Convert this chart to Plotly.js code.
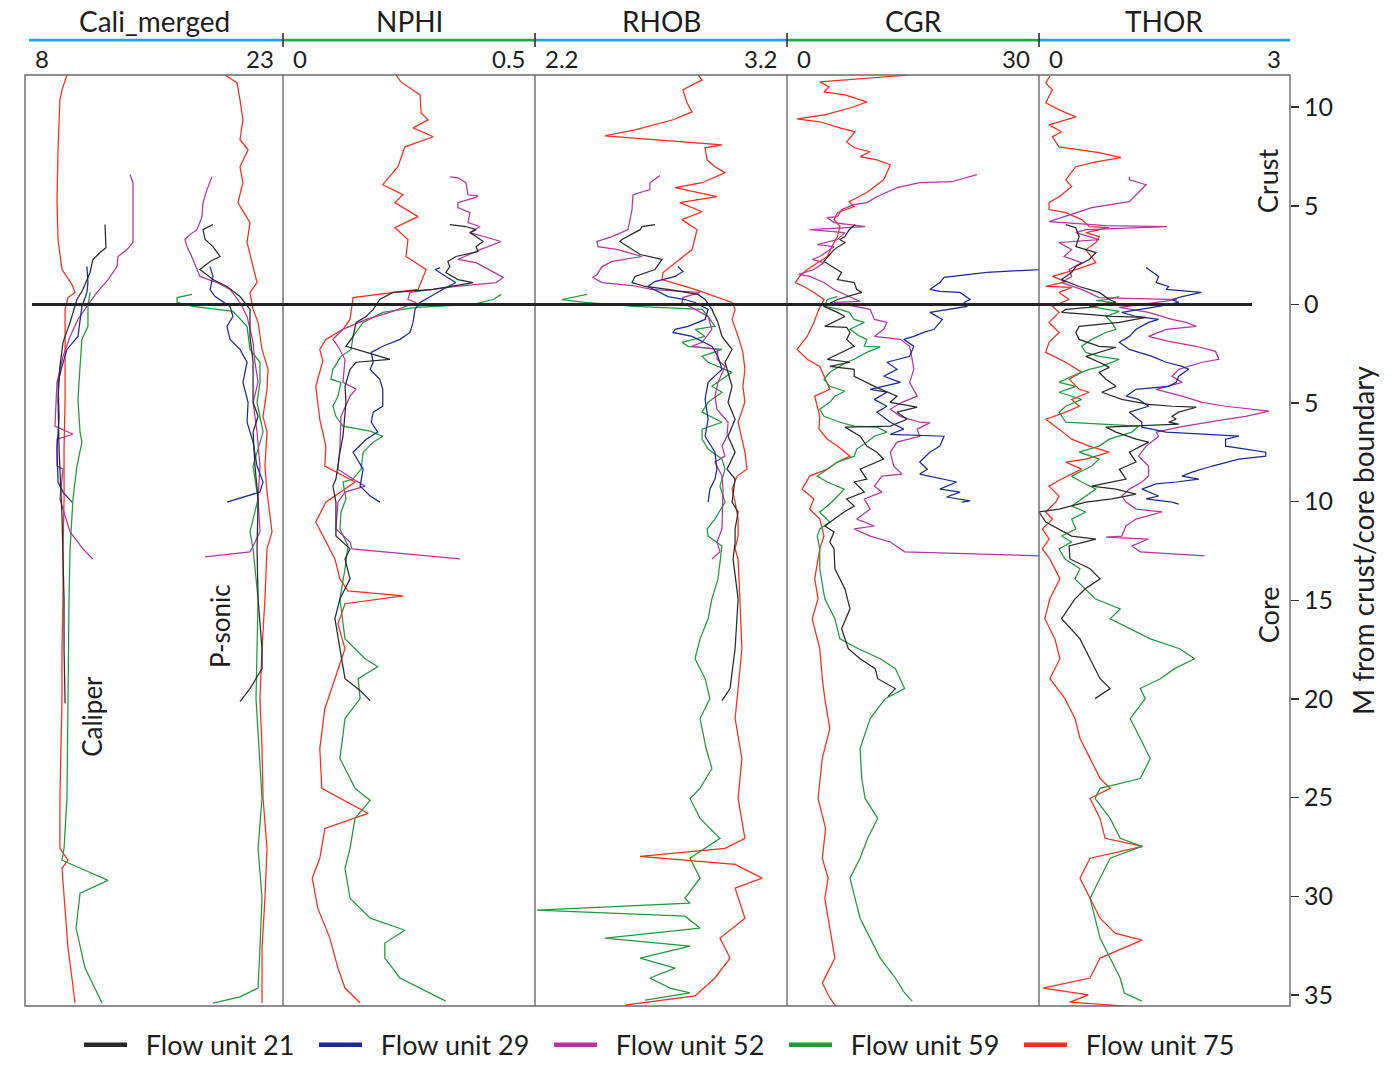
<!DOCTYPE html>
<html><head><meta charset="utf-8">
<script src="https://cdn.plot.ly/plotly-3.0.1.min.js"></script>
<style>html,body{margin:0;padding:0;background:#fff}</style>
</head><body><div id="chart" style="width:1398px;height:1082px"></div>
<script>
// ---------- Depth (m from crust/core boundary; negative = crust) and log values ----------
// Track 1: Cali_merged (caliper curves and P-sonic curves share the 8-23 track)
const cal75_d = [-11.63,-10.88,-10.37,-7.84,-5.31,-3.29,-1.77,-1.01,-0.61,-0.35,0.25,2.28,4.81,7.33,9.86,12.39,14.92,17.45,19.98,22.51,25.04,27.57,28.17,28.58,30.10,32.63,34.14,35.41];
const cal75_v = [10.44,10.15,10.03,9.92,9.86,9.92,10.15,10.73,10.91,10.50,10.33,10.33,10.33,10.27,10.27,10.21,10.21,10.15,10.15,10.09,10.03,10.03,10.50,10.15,10.27,10.50,10.73,10.91];
const cal52_d = [-6.58,-6.17,-3.14,-2.78,-2.43,-1.92,-1.26,-0.61,0.10,0.76,1.62,2.63,3.95,6.17,6.58,6.83,8.19,8.35,9.86,11.53,12.39,12.90];
const cal52_v = [14.10,14.28,14.28,13.93,13.41,13.35,12.83,12.19,11.60,11.08,10.62,10.21,9.86,9.74,10.79,9.86,9.86,10.21,10.03,10.62,11.37,11.95];
const cal21_d = [-4.05,-2.88,-2.63,-2.28,-1.62,-0.76,-0.25,0.91,1.92,3.14,4.81,7.33,10.72,12.39,14.92,17.45,20.23];
const cal21_v = [12.65,12.71,12.36,11.95,11.78,11.37,11.02,10.62,10.21,10.03,9.92,9.98,10.15,10.21,10.27,10.27,10.33];
const cal29_d = [-1.92,-1.11,-0.61,0.10,1.62,2.28,3.14,3.95,5.67,7.33,9.00,9.51,10.02];
const cal29_v = [11.60,11.66,11.60,11.31,11.08,10.44,10.15,9.92,9.98,9.86,9.92,10.21,10.73];
const cal59_d = [-0.61,0.10,1.11,1.77,3.14,4.81,6.47,6.98,8.19,9.86,12.39,14.92,19.98,25.04,27.57,28.17,28.68,29.19,29.84,31.61,33.64,35.15,35.41];
const cal59_v = [11.78,11.66,11.66,11.31,11.20,11.08,11.20,11.31,11.02,10.79,10.62,10.56,10.50,10.44,10.27,10.15,11.49,12.83,11.20,10.97,11.49,12.36,12.48];

const ps75_d = [-11.63,-11.23,-10.37,-9.36,-8.35,-7.84,-6.98,-6.17,-5.16,-4.15,-3.14,-1.92,-1.11,-0.61,0.25,0.91,2.28,3.29,4.30,5.67,6.47,8.19,9.51,11.53,12.39,14.92,17.45,19.98,22.51,25.04,27.57,30.10,32.63,35.41];
const ps75_v = [19.63,20.33,20.50,20.67,20.50,20.97,20.50,20.67,20.38,21.08,20.91,21.26,21.49,21.08,21.26,21.55,21.78,22.13,22.07,21.84,22.07,21.95,22.07,22.36,22.07,21.95,21.78,21.66,21.78,21.84,22.07,21.95,21.78,21.78];
const ps52_d = [-6.47,-5.82,-5.16,-4.45,-3.79,-3.54,-3.29,-2.93,-2.28,-1.77,-1.42,-1.11,-0.76,-0.10,0.61,1.92,2.93,3.95,4.96,6.47,8.19,9.86,11.53,12.24,12.54,12.80];
const ps52_v = [18.87,18.58,18.35,18.29,18.00,17.59,17.30,17.42,17.77,18.00,18.17,19.16,19.92,20.50,20.91,21.26,21.37,21.55,21.26,21.49,21.66,21.55,21.66,21.26,21.08,18.47];
const ps21_d = [-4.05,-3.79,-3.29,-2.93,-2.43,-2.18,-1.77,-1.26,-0.91,-0.40,0.25,1.62,2.93,4.96,5.67,6.47,8.19,9.86,12.39,14.92,17.45,18.46,19.47,20.13];
const ps21_v = [18.93,18.35,18.47,18.93,19.34,18.76,18.17,18.93,19.74,20.50,21.08,21.08,21.26,21.26,21.55,21.26,21.37,21.55,21.49,21.55,21.78,21.78,21.08,20.50];
const ps29_d = [-1.92,-1.42,-0.76,-0.40,0.10,0.61,1.11,1.77,2.28,2.93,3.95,4.96,5.97,6.98,8.19,9.00,9.51,10.02];
const ps29_v = [18.76,18.93,18.76,19.05,19.92,20.09,19.74,19.92,20.50,20.91,20.67,20.97,20.91,21.26,21.49,21.84,21.66,19.74];
const ps59_d = [-0.51,-0.35,-0.10,0.10,0.35,1.11,2.28,2.93,3.95,4.96,6.47,8.19,9.86,11.53,12.39,14.92,19.98,25.04,27.57,30.10,32.63,34.65,35.10,35.41];
const ps59_v = [17.71,16.84,16.84,17.77,20.09,20.91,21.08,21.66,21.66,21.49,21.84,21.26,21.55,21.08,21.26,21.55,21.43,21.78,21.55,21.78,21.66,21.55,20.50,18.93];

// Track 2: NPHI
const nphi75_d = [-11.63,-11.28,-10.62,-9.71,-9.36,-8.95,-8.50,-7.99,-6.98,-6.07,-5.56,-5.16,-4.45,-3.89,-3.29,-2.43,-1.77,-0.76,-0.35,0.76,1.26,1.77,2.28,2.88,4.15,5.82,7.18,8.19,9.00,10.02,11.03,12.04,12.90,13.91,14.52,14.77,15.17,16.19,17.45,18.97,20.49,22.51,24.53,25.80,26.56,28.07,29.08,30.60,32.12,33.64,34.65,35.41];
const nphi75_v = [0.224,0.234,0.272,0.274,0.288,0.258,0.298,0.242,0.228,0.198,0.238,0.222,0.268,0.222,0.248,0.244,0.284,0.268,0.139,0.133,0.119,0.085,0.073,0.079,0.065,0.073,0.085,0.083,0.143,0.085,0.065,0.085,0.103,0.113,0.129,0.238,0.123,0.109,0.123,0.103,0.083,0.073,0.077,0.169,0.083,0.073,0.058,0.069,0.093,0.109,0.123,0.153];
const nphi52_d = [-6.47,-6.42,-6.17,-5.56,-5.50,-5.41,-5.16,-4.91,-4.65,-4.15,-3.95,-3.64,-3.19,-2.78,-2.28,-2.12,-1.37,-1.11,-0.91,-0.61,-0.25,-0.10,0.40,0.76,1.26,1.77,2.12,2.78,3.95,4.30,4.65,5.67,7.18,8.35,8.85,9.21,9.51,10.02,11.38,12.04,12.39,12.90];
const nphi52_v = [0.331,0.347,0.363,0.367,0.387,0.381,0.347,0.347,0.371,0.367,0.391,0.371,0.433,0.391,0.347,0.383,0.437,0.423,0.343,0.252,0.248,0.264,0.212,0.165,0.119,0.099,0.109,0.123,0.119,0.145,0.133,0.115,0.113,0.109,0.139,0.163,0.123,0.109,0.105,0.133,0.137,0.351];
const nphi21_d = [-4.05,-3.95,-3.79,-3.64,-3.44,-3.19,-2.93,-2.68,-2.43,-2.18,-1.92,-1.62,-1.26,-1.11,-0.76,-0.61,-0.25,0.25,0.61,0.91,1.62,2.12,2.38,2.78,2.93,3.29,4.15,4.96,6.68,7.49,8.85,9.21,10.02,11.74,12.39,12.90,13.91,14.92,15.93,17.45,18.97,19.57,20.08];
const nphi21_v = [0.331,0.363,0.383,0.371,0.383,0.397,0.383,0.387,0.343,0.327,0.331,0.323,0.347,0.377,0.298,0.218,0.192,0.179,0.165,0.145,0.139,0.125,0.159,0.212,0.145,0.133,0.123,0.125,0.119,0.113,0.105,0.099,0.105,0.105,0.133,0.123,0.133,0.113,0.103,0.113,0.123,0.153,0.173];
const nphi29_d = [-1.87,-1.77,-1.42,-1.11,-0.76,-0.40,-0.10,0.25,0.91,1.42,1.77,2.12,2.43,2.93,3.29,3.79,4.30,5.16,5.46,5.97,6.47,6.83,7.49,8.35,9.21,9.71,10.02];
const nphi29_v = [0.312,0.302,0.323,0.343,0.317,0.292,0.272,0.262,0.258,0.252,0.232,0.198,0.175,0.179,0.173,0.192,0.198,0.198,0.179,0.175,0.188,0.165,0.139,0.159,0.153,0.173,0.192];
const nphi59_d = [-0.51,-0.25,0,0.15,0.40,0.91,1.62,2.28,2.63,3.29,3.79,3.95,4.65,5.16,5.67,6.17,6.42,6.68,6.98,7.49,8.35,8.85,9.00,9.86,10.52,11.38,12.24,13.40,14.92,16.95,17.96,18.36,18.97,19.98,20.99,23.01,24.53,25.14,26.05,27.57,28.58,30.10,31.11,31.72,32.37,33.13,34.14,34.65,35.31];
const nphi59_v = [0.433,0.417,0.377,0.264,0.198,0.159,0.139,0.135,0.115,0.099,0.095,0.115,0.109,0.099,0.105,0.119,0.173,0.198,0.179,0.159,0.155,0.139,0.119,0.125,0.115,0.113,0.129,0.123,0.113,0.123,0.163,0.188,0.149,0.153,0.123,0.113,0.143,0.173,0.143,0.133,0.123,0.133,0.173,0.242,0.202,0.202,0.232,0.272,0.323];

// Track 3: RHOB
const rhob75_d = [-11.63,-11.38,-10.88,-10.22,-9.76,-9.36,-8.85,-8.55,-8.09,-7.94,-7.33,-6.98,-6.68,-6.17,-5.92,-5.46,-5.16,-4.70,-4.30,-3.79,-2.78,-2.12,-1.62,-1.26,-0.76,-0.10,0.25,0.76,1.62,2.43,3.29,4.15,4.96,5.97,7.49,8.35,8.70,9.36,10.02,10.88,11.74,12.39,12.90,14.92,17.45,19.47,20.99,23.01,25.04,27.06,27.57,27.97,28.38,29.08,29.59,31.11,32.12,33.13,34.14,35.05,35.51];
const rhob75_v = [2.847,2.863,2.787,2.803,2.823,2.748,2.597,2.478,2.942,2.875,2.883,2.914,2.954,2.863,2.756,2.922,2.775,2.863,2.783,2.843,2.823,2.756,2.708,2.704,2.835,2.982,2.994,2.982,3.006,3.025,3.033,3.025,3.033,3.006,3.033,3.041,3.002,2.982,2.994,3.006,3.006,2.994,3.006,3.013,3.021,3.006,2.994,3.021,3.006,3.033,2.954,2.617,2.994,3.101,2.994,3.033,2.934,2.974,2.914,2.835,2.557];
const rhob52_d = [-6.53,-6.17,-5.82,-5.56,-4.81,-3.79,-3.44,-3.19,-2.93,-2.78,-2.43,-2.18,-1.92,-1.52,-1.37,-1.11,-0.96,-0.76,-0.66,-0.61,-0.35,-0.10,0.25,0.61,1.26,1.92,2.12,2.28,2.78,3.14,3.95,4.65,5.31,5.97,6.68,7.18,7.69,7.99,8.70,9.36,11.38,12.04,12.54,12.90];
const rhob52_v = [2.696,2.656,2.656,2.589,2.585,2.569,2.506,2.446,2.450,2.529,2.625,2.506,2.466,2.446,2.430,2.466,2.585,2.664,2.783,2.855,2.787,2.783,2.835,2.887,2.902,2.863,2.823,2.926,2.922,2.954,2.926,2.914,2.922,2.966,2.962,2.942,2.954,2.914,2.942,2.946,2.942,2.922,2.934,2.902];
const rhob21_d = [-4.05,-3.95,-3.79,-3.29,-3.19,-2.68,-2.53,-2.28,-1.77,-1.42,-1.11,-0.91,-0.76,-0.51,-0.25,0.25,0.91,1.62,2.28,2.93,4.15,4.96,5.82,6.68,7.49,8.35,8.85,10.02,10.52,11.38,12.04,12.90,14.92,17.45,19.47,20.08];
const rhob21_v = [2.676,2.625,2.617,2.545,2.537,2.597,2.617,2.704,2.676,2.597,2.585,2.637,2.728,2.847,2.875,2.902,2.926,2.942,2.982,2.954,2.982,2.966,2.994,2.966,2.994,2.962,2.994,2.982,3.006,2.994,2.994,2.986,3.006,2.994,2.974,2.942];
const rhob29_d = [-1.92,-1.67,-1.42,-1.16,-0.91,-0.40,-0.25,-0.10,0.25,0.76,1.11,1.26,1.42,1.62,2.12,2.63,3.29,3.95,4.81,5.82,6.68,7.49,8.35,8.85,9.36,10.02];
const rhob29_v = [2.767,2.787,2.756,2.676,2.648,2.728,2.795,2.835,2.887,2.875,2.807,2.756,2.748,2.823,2.902,2.926,2.942,2.887,2.875,2.887,2.875,2.914,2.922,2.914,2.894,2.887];
const rhob59_d = [-0.51,-0.25,-0.10,0.10,0.25,0.61,1.11,1.26,1.62,1.92,2.12,2.28,2.63,2.93,3.44,3.79,4.15,4.45,4.96,5.46,5.97,6.32,6.83,7.33,7.84,8.35,9.21,10.02,10.88,11.38,11.74,12.24,13.91,14.92,15.93,16.95,17.96,18.97,19.98,20.99,22.51,23.52,24.53,25.04,26.05,27.06,28.07,29.08,30.10,30.35,30.70,31.01,31.61,32.12,32.52,33.13,33.64,34.14,34.65,34.90,35.26];
const rhob59_v = [2.406,2.307,2.398,2.597,2.863,2.887,2.914,2.835,2.875,2.783,2.807,2.942,2.863,2.887,2.982,2.942,2.902,2.942,2.887,2.863,2.942,2.863,2.863,2.887,2.942,2.954,2.934,2.954,2.914,2.883,2.887,2.942,2.926,2.902,2.887,2.855,2.835,2.875,2.894,2.855,2.879,2.902,2.855,2.815,2.855,2.934,2.815,2.855,2.795,2.815,2.208,2.795,2.855,2.478,2.815,2.617,2.756,2.656,2.736,2.815,2.637];

// Track 4: CGR
const cgr75_d = [-11.63,-11.28,-11.03,-10.77,-10.62,-10.27,-10.02,-9.61,-9.41,-9.26,-8.95,-8.75,-8.24,-7.94,-7.74,-7.49,-7.33,-7.08,-6.68,-6.32,-5.97,-5.67,-5.41,-5.21,-4.96,-4.65,-4.30,-3.95,-3.44,-3.14,-2.43,-2.12,-1.77,-1.42,-1.11,-0.91,-0.61,-0.25,0.25,0.91,1.62,2.28,2.78,3.14,3.64,4.30,4.65,5.16,5.67,6.32,6.83,7.18,7.69,7.99,8.35,8.70,9.36,9.86,10.37,10.88,11.74,12.39,13.91,14.92,15.93,17.45,18.97,19.98,21.50,23.01,25.04,26.56,28.07,29.08,30.10,31.61,33.13,34.40,35.15,35.56];
const cgr75_v = [14.6,3.9,5.0,4.4,6.9,9.5,8.0,4.5,1.2,3.9,6.3,8.1,7.1,8.0,9.9,8.7,10.7,12.3,11.9,11.5,10.4,9.5,8.3,7.4,8.0,6.0,5.6,6.3,6.0,5.6,4.8,3.6,2.4,1.5,1.0,2.0,3.2,4.4,3.8,3.2,2.4,1.2,2.4,3.9,4.4,5.1,3.3,3.6,3.9,3.8,4.8,6.0,7.5,6.0,4.8,2.7,1.8,3.2,2.7,3.9,4.4,3.9,3.3,3.7,3.0,3.9,4.2,4.5,5.1,4.2,3.7,4.6,4.2,4.9,4.5,5.1,5.7,4.2,5.1,5.8];
const cgr52_d = [-6.58,-6.22,-6.17,-5.92,-5.46,-5.16,-5.06,-4.81,-4.45,-4.40,-4.15,-3.95,-3.79,-3.64,-3.29,-3.03,-2.93,-2.43,-2.28,-2.12,-1.77,-1.52,-1.42,-1.11,-0.76,-0.15,-0.10,0.25,0.76,0.91,1.26,1.62,1.77,2.12,2.78,3.29,3.95,4.65,4.96,5.31,5.67,5.97,6.00,6.32,6.68,6.98,7.49,8.19,8.60,8.70,9.21,9.51,9.86,10.37,10.88,11.23,11.38,11.74,12.04,12.39,12.54,12.75];
const cgr52_v = [22.6,19.6,15.8,13.1,10.7,9.5,8.0,6.5,6.0,4.8,5.6,9.3,2.7,6.9,6.0,3.6,5.6,3.9,3.0,4.4,3.2,1.4,2.7,4.4,5.6,8.7,5.6,9.9,10.4,11.9,11.5,10.4,13.5,14.6,14.9,15.1,14.6,15.5,13.7,12.3,13.5,15.8,17.0,15.5,15.8,13.1,12.3,12.7,13.7,11.3,10.4,11.3,9.2,9.9,8.3,10.4,8.0,9.9,12.3,13.5,14.0,30.5];
const cgr21_d = [-4.05,-3.79,-3.44,-3.29,-3.14,-2.78,-2.18,-1.77,-1.62,-1.26,-1.11,-0.76,-0.61,-0.25,0.10,0.40,0.61,1.11,1.16,1.42,1.77,2.12,2.78,2.93,3.14,3.29,3.64,4.15,4.45,4.65,4.96,5.21,5.46,5.82,6.17,6.22,6.68,7.18,7.49,7.84,8.35,8.85,9.00,9.51,9.86,10.22,10.52,10.88,11.23,11.53,12.04,12.39,13.40,14.42,15.43,16.44,17.45,17.96,18.46,18.97,19.47,19.88];
const cgr21_v = [8.1,7.4,6.9,6.3,6.9,5.6,4.4,6.0,6.5,6.0,8.0,8.3,8.9,6.0,4.4,6.0,6.9,4.5,7.1,7.5,7.1,8.0,4.8,7.5,5.1,8.0,8.0,10.4,11.9,13.1,12.3,15.5,13.1,14.3,12.3,6.9,8.7,9.5,10.7,11.5,8.7,9.5,8.0,9.2,7.1,8.0,6.8,5.6,4.5,5.6,5.1,5.6,5.7,6.9,7.5,6.5,7.3,8.7,10.5,10.8,12.9,12.0];
const cgr29_d = [-1.87,-1.77,-1.62,-1.37,-1.11,-0.76,-0.66,-0.61,-0.25,-0.10,0.10,0.25,0.40,0.76,1.26,1.42,1.62,1.77,2.12,2.63,2.93,3.29,3.64,3.95,4.30,4.45,4.81,5.16,5.46,5.97,6.32,6.58,6.68,7.18,7.49,7.99,8.35,8.60,8.85,9.00,9.36,9.51,9.76,9.96,10.02];
const cgr29_v = [30.7,30.0,23.8,18.7,18.2,17.0,18.2,20.6,21.8,21.1,21.4,19.0,17.0,18.5,17.5,16.3,15.1,13.9,15.1,14.6,11.9,13.1,11.5,13.5,9.9,11.9,10.4,11.9,10.7,12.3,13.9,12.3,18.7,18.2,17.0,15.8,16.7,15.8,18.7,20.2,18.2,20.6,19.0,21.8,20.8];
const cgr59_d = [-0.40,-0.25,0.10,0.25,0.40,0.76,0.91,1.26,1.62,1.77,2.12,2.15,2.43,2.78,2.93,3.14,3.44,3.79,4.15,4.40,4.65,4.96,5.31,5.67,5.97,6.17,6.22,6.47,6.68,6.98,7.33,7.69,7.99,8.35,8.70,9.00,9.36,9.86,10.22,10.52,11.03,11.38,11.74,12.39,13.40,14.92,15.93,16.95,17.45,17.96,18.46,19.47,19.98,20.99,22.51,24.03,25.04,26.05,27.06,28.07,29.08,30.10,31.11,32.12,33.13,34.14,34.90,35.31];
const cgr59_v = [6.0,4.8,4.4,6.3,7.4,8.0,9.2,7.5,8.7,9.5,9.2,11.1,9.5,8.0,7.1,6.3,5.1,4.4,5.1,6.9,5.7,5.1,3.9,4.4,6.3,8.0,10.7,11.9,10.4,9.5,8.3,8.0,6.0,4.8,3.6,4.8,6.8,5.7,4.8,3.9,5.1,3.9,3.6,3.9,3.9,4.5,5.7,6.3,8.5,11.1,12.9,14.0,11.7,9.9,8.7,8.9,9.3,10.8,9.6,8.7,7.5,8.1,8.7,9.9,11.1,12.9,14.0,14.9];

// Track 5: THOR
const thor75_d = [-11.58,-11.23,-10.88,-10.22,-9.86,-9.51,-9.10,-8.75,-8.50,-7.99,-7.69,-7.44,-7.23,-6.98,-6.32,-5.97,-5.46,-5.16,-4.81,-4.65,-4.30,-3.95,-3.89,-3.64,-3.44,-3.14,-2.78,-2.12,-1.77,-1.42,-1.16,-0.91,-0.86,-0.61,-0.25,0.10,0.40,0.91,1.42,1.92,2.43,2.93,3.44,3.79,4.30,4.45,4.81,5.16,5.46,5.82,6.32,6.83,7.18,7.49,7.84,7.99,8.35,8.85,9.21,9.71,10.02,10.52,10.88,11.38,11.89,12.39,12.90,13.91,14.92,15.93,16.95,17.96,18.97,19.98,20.99,22.00,23.01,24.03,24.53,25.04,26.05,27.06,27.47,28.07,29.08,30.10,31.11,31.87,32.22,33.13,34.14,34.65,35.00,35.36,35.56];
const thor75_v = [0.13,0.08,0.16,0.08,0.24,0.44,0.12,0.27,0.16,0.24,0.72,0.98,0.68,0.44,0.32,0.39,0.24,0.12,0.12,0.32,0.51,0.60,0.84,0.56,0.72,0.68,0.56,0.68,0.44,0.16,0.32,0.08,0.39,0.24,0.36,0.16,0.24,0.12,0.24,0.12,0.08,0.32,0.51,0.36,0.48,0.60,0.39,0.48,0.32,0.08,0.24,0.39,0.60,0.84,0.56,0.32,0.51,0.27,0.12,0.24,0.20,0.08,0.16,0.04,0.12,0.04,0.13,0.25,0.13,0.07,0.19,0.25,0.13,0.31,0.43,0.49,0.61,0.73,0.85,0.61,0.73,0.79,1.24,0.61,0.49,0.61,0.73,0.91,1.23,0.73,0.61,0.05,0.59,0.37,1.02];
const thor52_d = [-6.47,-6.32,-6.07,-5.67,-5.21,-4.91,-4.65,-4.20,-4.00,-3.95,-3.79,-3.64,-3.29,-3.14,-2.78,-2.43,-2.12,-1.77,-1.42,-1.11,-0.76,-0.35,-0.25,0.15,0.40,0.76,0.91,1.11,1.26,1.62,1.87,2.12,2.38,2.78,2.93,3.29,3.64,3.95,4.30,4.65,4.96,5.16,5.41,5.67,5.82,5.97,6.22,6.47,6.68,7.18,7.69,8.19,8.70,9.00,9.36,9.71,10.02,10.37,10.52,10.88,11.23,11.74,11.79,11.89,12.24,12.54,12.75];
const thor52_v = [1.08,1.08,1.28,1.19,1.08,0.63,0.44,0.12,0.80,1.53,0.56,0.44,0.72,0.24,0.39,0.30,0.51,0.36,0.39,0.27,0.51,0.72,1.65,0.96,1.31,1.59,1.76,1.88,1.52,1.31,1.55,1.88,2.11,2.15,1.95,1.67,1.59,1.71,1.40,1.71,1.95,2.23,2.75,2.47,2.23,2.03,1.67,1.40,1.43,1.28,1.19,1.31,1.31,1.23,1.08,0.99,1.04,1.16,1.47,1.16,1.04,0.99,0.80,1.31,1.11,1.21,1.98];
const thor21_d = [-4.05,-3.89,-3.44,-2.93,-2.63,-2.28,-1.92,-1.62,-1.26,-0.91,-0.61,-0.25,-0.10,0.15,0.25,0.40,0.51,0.61,0.66,0.91,1.11,1.42,1.77,2.12,2.17,2.43,2.63,2.93,3.19,3.44,3.79,4.15,4.45,4.81,4.96,5.06,5.16,5.21,5.46,5.67,5.82,5.97,6.07,6.22,6.47,6.83,6.98,7.49,7.99,8.35,8.85,9.21,9.36,9.61,9.86,10.02,10.37,10.52,11.03,11.38,11.74,11.89,12.24,12.90,13.40,13.91,14.42,14.92,15.93,16.95,17.96,18.97,19.47,19.98];
const thor21_v = [0.32,0.44,0.48,0.44,0.68,0.60,0.44,0.39,0.27,0.48,0.72,0.84,0.92,0.60,0.32,0.27,0.63,0.87,1.28,0.96,0.48,0.44,0.48,0.72,0.92,0.72,0.56,0.72,0.84,0.72,0.80,0.92,0.75,0.99,1.16,1.31,1.59,1.88,1.67,1.59,1.64,1.55,1.67,0.80,0.92,1.16,1.31,1.08,1.16,0.96,1.04,0.63,0.92,1.16,0.87,0.56,0.24,0.00,0.08,0.24,0.39,0.68,0.36,0.37,0.61,0.73,0.55,0.43,0.27,0.49,0.61,0.73,0.85,0.67];
const thor29_d = [-1.87,-1.67,-1.42,-1.11,-0.91,-0.76,-0.61,-0.40,-0.25,-0.10,0.10,0.40,0.61,0.76,0.91,1.26,1.62,1.92,2.28,2.63,2.93,3.14,3.29,3.64,3.95,4.15,4.30,4.65,4.81,5.16,5.46,5.97,6.22,6.47,6.68,6.83,7.18,7.33,7.49,7.69,7.84,8.19,8.50,8.70,8.85,9.00,9.10,9.36,9.51,9.71,9.86,10.02,10.12];
const thor29_v = [1.28,1.35,1.43,1.40,1.55,1.52,1.94,1.71,1.59,1.67,1.43,0.99,1.16,1.43,1.31,1.16,1.08,0.96,1.08,1.35,1.52,1.71,1.79,1.67,1.64,1.55,1.16,1.04,1.19,1.31,1.08,1.23,1.23,1.52,2.39,2.23,2.23,2.47,2.71,2.71,2.39,2.07,1.83,1.71,1.91,1.64,1.40,1.23,1.31,1.43,1.28,1.59,1.67];
const thor59_d = [-0.40,-0.25,-0.20,-0.10,0.10,0.35,0.61,0.91,1.26,1.42,1.77,2.12,2.43,2.63,2.78,3.14,3.29,3.64,3.95,4.15,4.45,4.81,5.16,5.46,5.97,6.17,6.47,6.83,7.18,7.49,7.84,8.19,8.70,9.00,9.36,9.71,10.22,10.52,10.88,11.38,11.74,12.04,12.39,12.90,13.40,13.91,14.92,15.43,15.93,16.95,17.45,17.96,18.46,18.97,19.47,19.98,20.99,22.00,23.01,24.03,24.53,25.04,26.05,27.06,27.47,28.07,29.08,30.10,31.11,32.12,33.13,34.14,34.90,35.31];
const thor59_v = [0.96,0.80,0.68,0.87,0.60,0.96,0.80,0.87,0.92,0.80,0.63,0.51,0.56,0.72,0.96,0.75,0.60,0.39,0.24,0.44,0.24,0.51,0.32,0.24,0.32,1.19,1.11,0.84,0.72,0.48,0.72,0.63,0.39,0.51,0.68,0.56,0.39,0.56,0.39,0.44,0.27,0.39,0.24,0.31,0.49,0.43,0.67,0.97,0.85,1.33,1.68,1.86,1.62,1.45,1.21,1.27,1.09,1.21,1.33,1.21,0.73,0.67,0.85,0.97,1.23,0.85,0.73,0.61,0.67,0.73,0.85,0.97,1.02,1.23];

// ---------- Labels ----------
const units = ['21','29','52','59','75'];
const unitNames = ['Flow unit 21','Flow unit 29','Flow unit 52','Flow unit 59','Flow unit 75'];
const trackTitles = ['Cali_merged','NPHI','RHOB','CGR','THOR'];
const trackMin = [8, 0, 2.2, 0, 0];
const trackMax = [23, 0.5, 3.2, 30, 3];
const trackMinText = ['8','0','2.2','0','0'];
const trackMaxText = ['23','0.5','3.2','30','3'];
const depthTicks = [-10,-5,0,5,10,15,20,25,30,35];
const depthTickText = ['10','5','0','5','10','15','20','25','30','35'];

// ---------- Build ----------
const colors = {'21':'#2a2a2a','29':'#1c2a98','52':'#b8349f','59':'#1f9a3f','75':'#ff2b1c'};
const series = {
  cal:{'21':[cal21_v,cal21_d],'29':[cal29_v,cal29_d],'52':[cal52_v,cal52_d],'59':[cal59_v,cal59_d],'75':[cal75_v,cal75_d]},
  ps:{'21':[ps21_v,ps21_d],'29':[ps29_v,ps29_d],'52':[ps52_v,ps52_d],'59':[ps59_v,ps59_d],'75':[ps75_v,ps75_d]},
  nphi:{'21':[nphi21_v,nphi21_d],'29':[nphi29_v,nphi29_d],'52':[nphi52_v,nphi52_d],'59':[nphi59_v,nphi59_d],'75':[nphi75_v,nphi75_d]},
  rhob:{'21':[rhob21_v,rhob21_d],'29':[rhob29_v,rhob29_d],'52':[rhob52_v,rhob52_d],'59':[rhob59_v,rhob59_d],'75':[rhob75_v,rhob75_d]},
  cgr:{'21':[cgr21_v,cgr21_d],'29':[cgr29_v,cgr29_d],'52':[cgr52_v,cgr52_d],'59':[cgr59_v,cgr59_d],'75':[cgr75_v,cgr75_d]},
  thor:{'21':[thor21_v,thor21_d],'29':[thor29_v,thor29_d],'52':[thor52_v,thor52_d],'59':[thor59_v,thor59_d],'75':[thor75_v,thor75_d]}
};
const trackOf = {cal:'x', ps:'x', nphi:'x2', rhob:'x3', cgr:'x4', thor:'x5'};
const drawOrder = ['75','59','52','29','21'];

const traces = [];
Object.keys(series).forEach(k => {
  drawOrder.forEach(u => {
    traces.push({
      type:'scatter', mode:'lines', x: series[k][u][0], y: series[k][u][1],
      xaxis: trackOf[k], yaxis:'y', line:{color: colors[u], width:1.25},
      showlegend:false, hoverinfo:'skip'
    });
  });
});
const NB = '\u00a0\u00a0';
units.forEach((u,i) => {
  traces.push({type:'scatter', mode:'lines', x:[null], y:[null], xaxis:'x', yaxis:'y',
    name: NB + unitNames[i], line:{color: colors[u], width:4.5}, showlegend:true});
});

const doms = [[0,0.203953],[0.203953,0.403162],[0.403162,0.602372],[0.602372,0.801581],[0.801581,1]];
const axNames = ['xaxis','xaxis2','xaxis3','xaxis4','xaxis5'];
const axRefs = ['x','x2','x3','x4','x5'];
const topColors = ['#1ea3e6','#22a94a','#1ea3e6','#22a94a','#1ea3e6'];
const txt = '#1e1e1e';

const layout = {
  width:1398, height:1082,
  margin:{l:25, r:108, t:75, b:74},
  paper_bgcolor:'#ffffff', plot_bgcolor:'#ffffff',
  font:{family:'Lato, "Open Sans", sans-serif', color:txt, size:24},
  showlegend:true,
  legend:{orientation:'h', x:0.0427, xanchor:'left', y:-0.042, yanchor:'middle',
          font:{size:27, color:txt}, itemwidth:43, entrywidth:177, entrywidthmode:'pixels',
          bgcolor:'rgba(0,0,0,0)'},
  yaxis:{range:[35.56,-11.63], side:'right', anchor:'x5', tickmode:'array',
         tickvals: depthTicks, ticktext: depthTickText, ticks:'outside', ticklen:8, tickwidth:1.5,
         tickcolor:'#333', showgrid:false, zeroline:false, showline:false,
         tickfont:{size:25, color:txt},
         title:{text:'M from crust/core boundary', font:{size:28, color:txt}, standoff:22}},
  shapes:[], annotations:[]
};
axNames.forEach((a,i) => {
  layout[a] = {domain: doms[i], range:[trackMin[i], trackMax[i]], anchor:'y',
               showgrid:false, zeroline:false, showline:false, showticklabels:false, ticks:''};
});

const S = layout.shapes, A = layout.annotations;
S.push({type:'rect', xref:'paper', yref:'paper', x0:0, x1:1, y0:0, y1:1, line:{color:'#6a6a6a', width:1.4}});
for (let i = 1; i < 5; i++) {
  S.push({type:'line', xref: axRefs[i] + ' domain', yref:'paper', x0:0, x1:0, y0:0, y1:1, line:{color:'#6a6a6a', width:1.4}});
}
S.push({type:'line', xref:'paper', yref:'y', x0:0.0055, x1:0.970, y0:0, y1:0, line:{color:'#222', width:3}});
for (let i = 0; i < 5; i++) {
  const r = axRefs[i] + ' domain';
  S.push({type:'line', xref:r, yref:'paper', x0:(i===0?0.0155:0), x1:1, y0:1.0375, y1:1.0375, line:{color: topColors[i], width:2.6}});
  if (i > 0) S.push({type:'line', xref:r, yref:'paper', x0:0, x1:0, y0:1.030, y1:1.045, line:{color:'#222', width:1.5}});
  A.push({xref:r, yref:'paper', x:0.5, y:1.0579, text: trackTitles[i], showarrow:false, xanchor:'center', yanchor:'middle', font:{size:28, color:txt}});
  A.push({xref:axRefs[i], yref:'paper', x:trackMin[i], y:1.0175, text: trackMinText[i], showarrow:false, xanchor:'left', yanchor:'middle', xshift:8, font:{size:24, color:txt}});
  A.push({xref:axRefs[i], yref:'paper', x:trackMax[i], y:1.0175, text: trackMaxText[i], showarrow:false, xanchor:'right', yanchor:'middle', xshift:-7, font:{size:24, color:txt}});
}
A.push({xref:'paper', yref:'y', x:0.9818, y:-6.3, text:'Crust', textangle:-90, showarrow:false, xanchor:'center', yanchor:'middle', font:{size:27, color:txt}});
A.push({xref:'paper', yref:'y', x:0.9826, y:15.7, text:'Core', textangle:-90, showarrow:false, xanchor:'center', yanchor:'middle', font:{size:27, color:txt}});
A.push({xref:'x', yref:'y', x:11.9, y:20.9, text:'Caliper', textangle:-90, showarrow:false, xanchor:'center', yanchor:'middle', font:{size:26, color:txt}});
A.push({xref:'x', yref:'y', x:19.34, y:16.3, text:'P-sonic', textangle:-90, showarrow:false, xanchor:'center', yanchor:'middle', font:{size:26, color:txt}});

Plotly.newPlot('chart', traces, layout, {displayModeBar:false, staticPlot:true});
</script></body></html>
